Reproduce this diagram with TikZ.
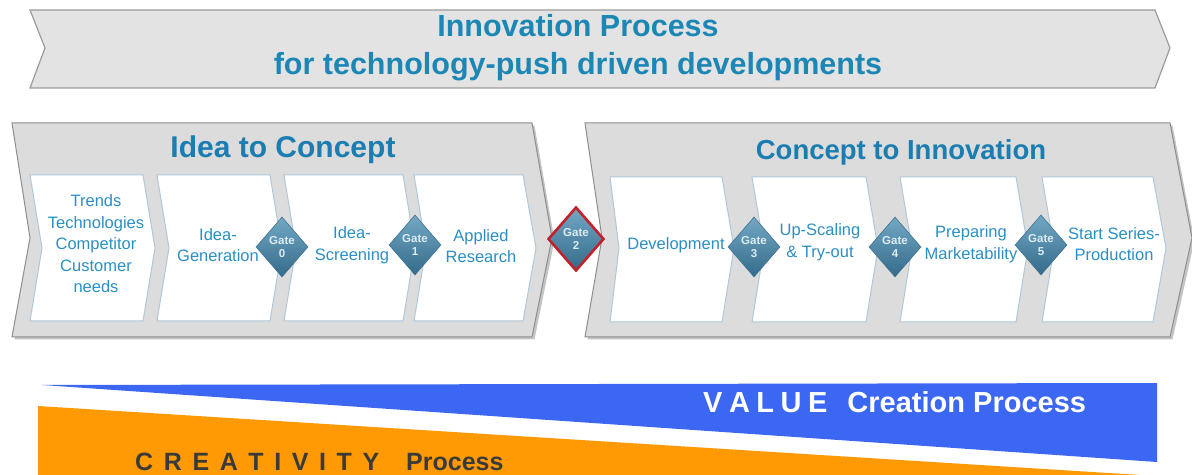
\documentclass[tikz,border=0pt]{standalone}
\usepackage{fontspec}
\setmainfont{Liberation Sans}
\usetikzlibrary{shapes.geometric}

\definecolor{titleblue}{HTML}{1C87B5}
\definecolor{phaseblue}{HTML}{1B7DB0}
\definecolor{stageblue}{HTML}{2B8FC4}
\definecolor{bannerfill}{HTML}{E3E3E3}
\definecolor{bannerline}{HTML}{9C9C9C}
\definecolor{panelfill}{HTML}{DCDCDC}
\definecolor{panelline}{HTML}{8E8E8E}
\definecolor{shadowgray}{HTML}{C4C4C4}
\definecolor{stageline}{HTML}{AEC8D8}
\definecolor{gatehi}{HTML}{72A8C4}
\definecolor{gatelo}{HTML}{346B8A}
\definecolor{gateedge}{HTML}{3F7290}
\definecolor{gatetext}{HTML}{DCEBF3}
\definecolor{gatered}{HTML}{C1222B}
\definecolor{valueblue}{HTML}{3B67F2}
\definecolor{creaorange}{HTML}{FF9A05}
\definecolor{creatext}{HTML}{3A3A3A}

% closed chevron: style, left x, right x, top y, bottom y, middle y, tip depth, notch depth
\newcommand\chevron[8]{%
  \path[#1] (#2,#4) -- (#3,#4) -- ({#3+#7},#6) -- (#3,#5) -- (#2,#5) -- ({#2+#8},#6) -- cycle;}
\newcommand\vsp{\hspace{6.5bp}}
\newcommand\csp{\hspace{10.6bp}}

\begin{document}
\begin{tikzpicture}[x=1bp,y=-1bp,
  banner/.style={fill=bannerfill,draw=bannerline,line width=1.2bp,line join=miter},
  panel/.style={fill=panelfill,draw=panelline,line width=1bp},
  panelshadow/.style={fill=shadowgray},
  stagebox/.style={fill=white,draw=stageline,line width=1bp},
  titletext/.style={text=titleblue,font=\fontsize{30.5bp}{36bp}\selectfont\bfseries,inner sep=0},
  phasetext/.style={text=phaseblue,font=\fontsize{30bp}{36bp}\selectfont\bfseries,inner sep=0},
  phasetextsmall/.style={text=phaseblue,font=\fontsize{27.5bp}{33bp}\selectfont\bfseries,inner sep=0},
  stagetext/.style={text=stageblue,font=\fontsize{16.5bp}{21.5bp}\selectfont,align=center,inner sep=0},
  gate/.style={diamond,minimum width=52bp,minimum height=60bp,inner sep=0,
    top color=gatehi,bottom color=gatelo,draw=gateedge,line width=0.6bp,
    text=gatetext,font=\fontsize{11.5bp}{13bp}\selectfont\bfseries,align=center},
  redgate/.style={gate,minimum width=56bp,minimum height=64bp,draw=gatered,line width=2.6bp}
]
\useasboundingbox (0,0) rectangle (1192,475);

% top banner
\chevron{banner}{30}{1155}{10}{88}{48}{15}{15}
\node[titletext,anchor=base] (title1) at (578,37) {Innovation Process};
\node[titletext,anchor=base] (title2) at (578,75) {for technology-push driven developments};

% phase panels with their shadows
\begin{scope}[shift={(2.5,2.5)}]
  \chevron{panelshadow}{12}{532}{123}{337}{238}{20}{18}
  \chevron{panelshadow}{585}{1170}{123}{337}{238}{22}{17}
\end{scope}
\chevron{panel}{12}{532}{123}{337}{238}{20}{18}
\chevron{panel}{585}{1170}{123}{337}{238}{22}{17}
\node[phasetext,anchor=base] (phase1) at (283,158) {Idea to Concept};
\node[phasetextsmall,anchor=base] (phase2) at (901,160) {Concept to Innovation};

% stage boxes
\chevron{stagebox}{30}{143}{175}{321}{248}{12}{12}
\chevron{stagebox}{157}{270}{175}{321}{248}{12}{12}
\chevron{stagebox}{284}{403}{175}{321}{248}{12}{12}
\chevron{stagebox}{414}{523}{175}{321}{248}{13}{12}
\chevron{stagebox}{610}{722}{177}{322}{248}{12}{9}
\chevron{stagebox}{752}{866}{177}{322}{248}{12}{12}
\chevron{stagebox}{900}{1016}{177}{322}{248}{12}{12}
\chevron{stagebox}{1042}{1153}{177}{322}{248}{13}{12}

% stage labels
\node[stagetext] (s1) at (96,244) {Trends\\Technologies\\Competitor\\Customer\\needs};
\node[stagetext] (s2) at (218,245) {Idea-\\Generation};
\node[stagetext] (s3) at (352,245) {Idea-\\Screening};
\node[stagetext] (s4) at (481,246) {Applied\\Research};
\node[stagetext] (s5) at (676,245) {Development};
\node[stagetext] (s6) at (820,242) {Up-Scaling\\\& Try-out};
\node[stagetext] (s7) at (971,244) {Preparing\\Marketability};
\node[stagetext] (s8) at (1114,244) {Start Series-\\Production};

% gates
\node[gate] (g0) at (282,247) {Gate\\0};
\node[gate] (g1) at (415,245) {Gate\\1};
\node[redgate] (g2) at (576,239) {Gate\\2};
\node[gate] (g3) at (754,247) {Gate\\3};
\node[gate] (g4) at (895,247) {Gate\\4};
\node[gate] (g5) at (1041,245) {Gate\\5};

% value and creativity bands
\fill[valueblue] (42,385) -- (1157,383) -- (1157,462) -- cycle;
\fill[creaorange] (38,406) -- (1140,475) -- (38,475) -- cycle;
\node[anchor=base west,inner sep=0,text=white,font=\fontsize{29bp}{34bp}\selectfont\bfseries]
  (value) at (703,413) {V\vsp A\vsp L\vsp U\vsp E\hspace{20bp}Creation Process};
\node[anchor=base west,inner sep=0,text=creatext,font=\fontsize{25bp}{30bp}\selectfont\bfseries]
  (crea) at (135,471) {C\csp R\csp E\csp A\csp T\csp I\csp V\csp I\csp T\csp Y\hspace{27bp}Process};
\end{tikzpicture}
\end{document}
